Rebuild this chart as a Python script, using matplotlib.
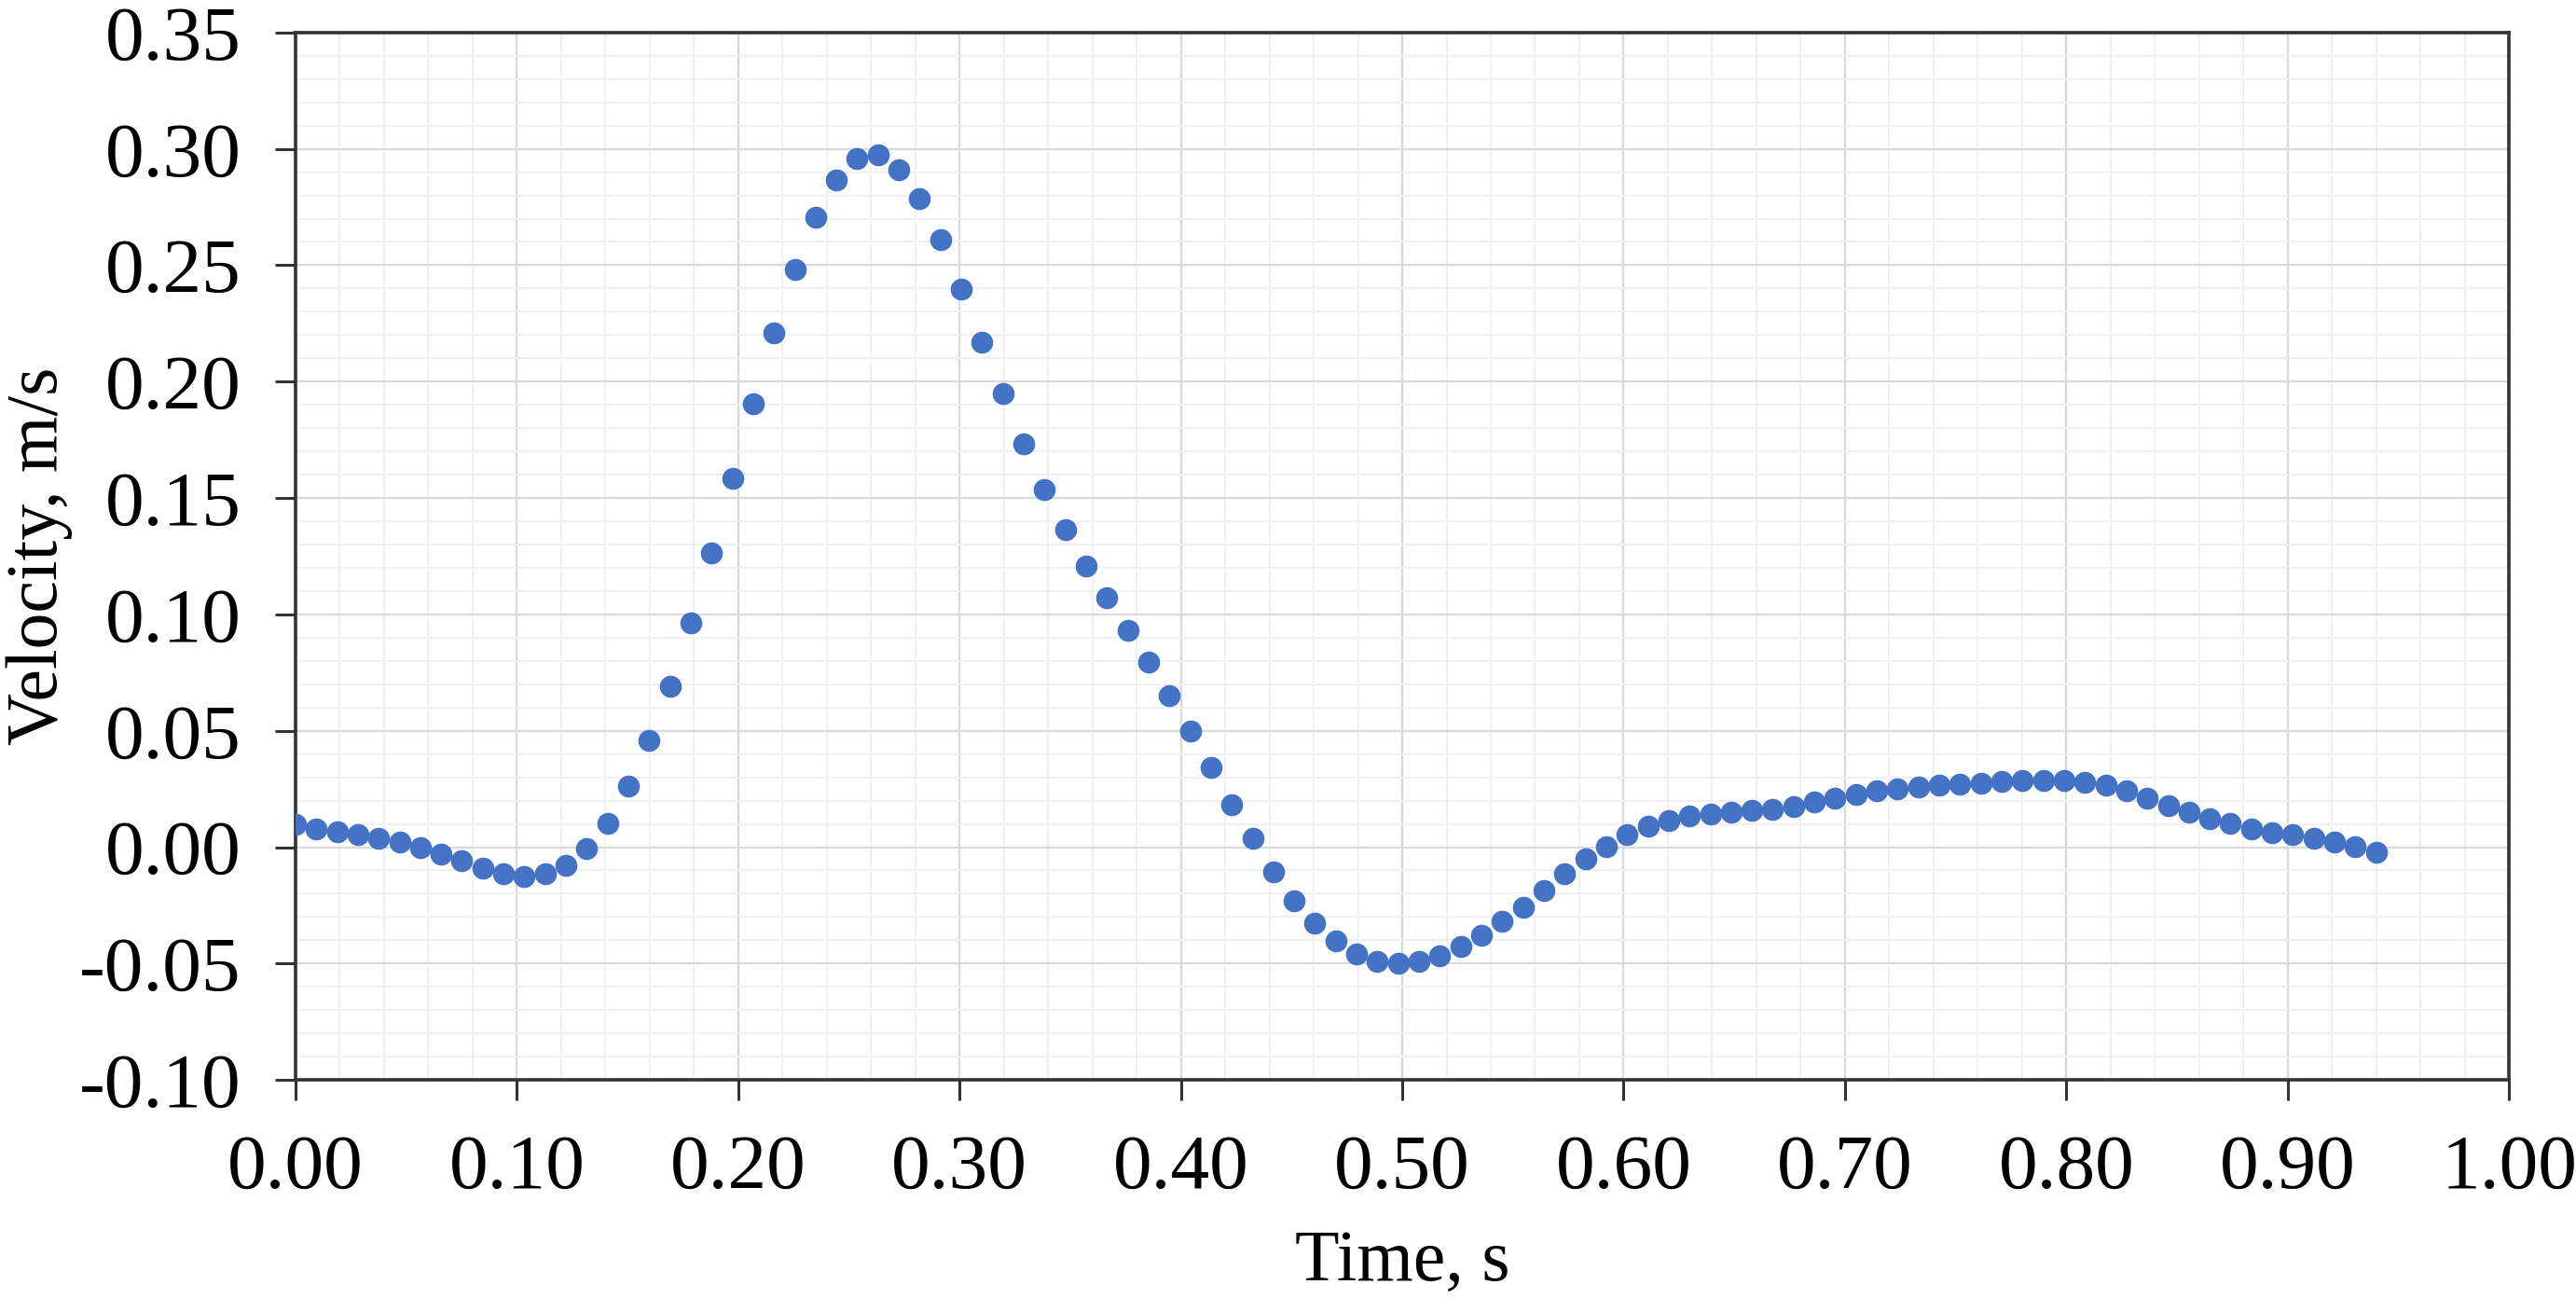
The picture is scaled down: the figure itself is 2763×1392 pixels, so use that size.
import numpy as np
import matplotlib.pyplot as plt
from matplotlib.ticker import MultipleLocator, FormatStrFormatter

# sample times (101 samples, 0 .. 0.94 s)
time_s = np.linspace(0.0, 0.94, 101)

velocity = [
    0.0100, 0.0080, 0.0067, 0.0053, 0.0037, 0.0021, -0.0003, -0.0029, -0.0059, -0.0090,
    -0.0116, -0.0126, -0.0116, -0.0080, -0.0005, 0.0104, 0.0262, 0.0458, 0.0692, 0.0963,
    0.1265, 0.1583, 0.1904, 0.2208, 0.2483, 0.2708, 0.2867, 0.2958, 0.2973, 0.2910,
    0.2785, 0.2608, 0.2399, 0.2170, 0.1949, 0.1734, 0.1537, 0.1364, 0.1209, 0.1070,
    0.0933, 0.0797, 0.0652, 0.0500, 0.0342, 0.0184, 0.0037, -0.0107, -0.0230, -0.0326,
    -0.0404, -0.0457, -0.0491, -0.0498, -0.0491, -0.0467, -0.0426, -0.0377, -0.0317, -0.0257,
    -0.0187, -0.0116, -0.0049, 0.0004, 0.0053, 0.0091, 0.0115, 0.0134, 0.0144, 0.0151,
    0.0158, 0.0162, 0.0175, 0.0193, 0.0209, 0.0225, 0.0241, 0.0249, 0.0257, 0.0265,
    0.0271, 0.0275, 0.0281, 0.0285, 0.0287, 0.0287, 0.0278, 0.0265, 0.0241, 0.0209,
    0.0178, 0.0151, 0.0124, 0.0102, 0.0080, 0.0064, 0.0053, 0.0037, 0.0024, 0.0004,
    -0.0023,
]

plt.rcParams['font.family'] = ['Liberation Serif', 'DejaVu Serif']

fig = plt.figure(figsize=(27.63, 13.92), dpi=100)
ax = fig.add_axes([0.1147, 0.168, 0.974 - 0.1147, 0.975 - 0.168])

ax.plot(time_s, velocity, 'o', color='#4472C4', markersize=17, markeredgewidth=0, zorder=3)

ax.set_xlim(0, 1.0)
ax.set_ylim(-0.10, 0.35)
ax.xaxis.set_major_locator(MultipleLocator(0.1))
ax.xaxis.set_minor_locator(MultipleLocator(0.02))
ax.yaxis.set_major_locator(MultipleLocator(0.05))
ax.yaxis.set_minor_locator(MultipleLocator(0.01))
ax.xaxis.set_major_formatter(FormatStrFormatter('%.2f'))
ax.yaxis.set_major_formatter(FormatStrFormatter('%.2f'))

ax.grid(which='major', color='#d9d9d9', linewidth=1.6)
ax.grid(which='minor', color='#f0f0f0', linewidth=1.4)
ax.set_axisbelow(True)

for s in ax.spines.values():
    s.set_color('#333333')
    s.set_linewidth(2.6)

ax.tick_params(which='major', direction='out', length=16, width=2.2, color='#333333',
               labelsize=60)
ax.tick_params(axis='y', pad=26)
ax.tick_params(axis='x', pad=26)
ax.tick_params(which='minor', length=0)

ax.set_xlabel('Time, s', fontsize=56, va='center')
ax.set_ylabel('Velocity, m/s', fontsize=56, va='center')
ax.xaxis.set_label_coords(0.5, -0.174)
ax.yaxis.set_label_coords(-0.1155, 0.5)

fig.savefig('out.png', dpi=100, facecolor='white')
